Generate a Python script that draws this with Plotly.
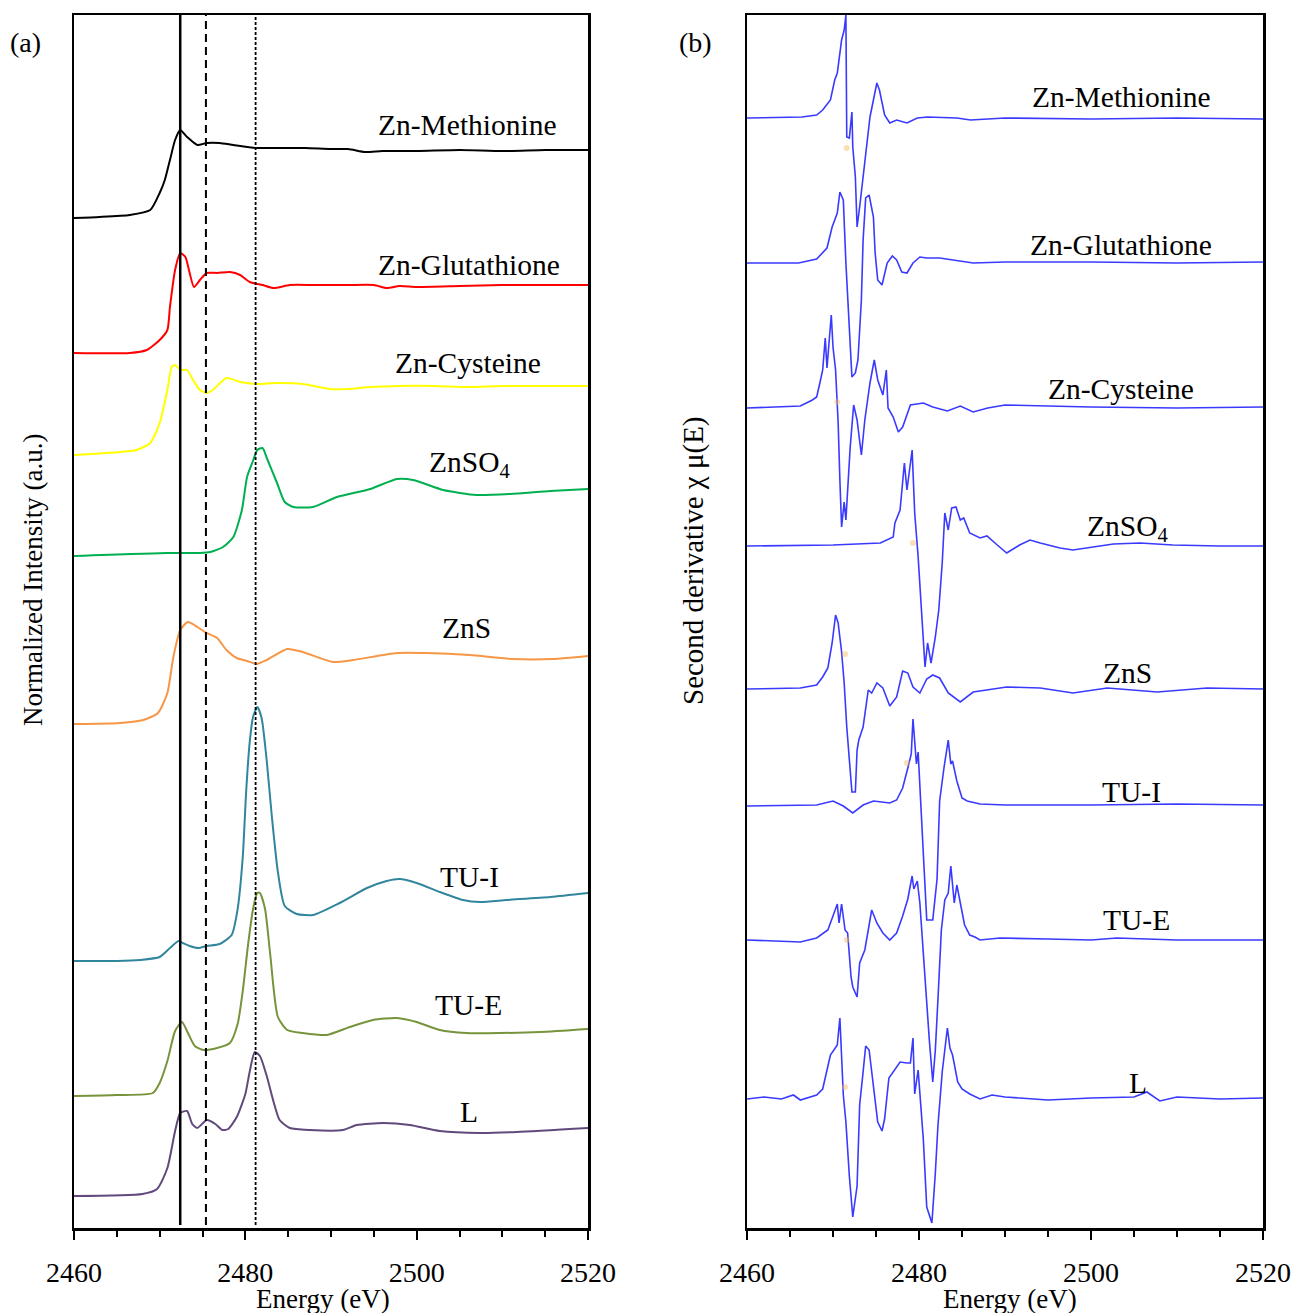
import plotly.graph_objects as go

# ---------------- Panel (a): normalized XANES (offset stacked, a.u.) ----------------
E_met_a = [2460, 2463, 2466.5, 2468.9, 2470, 2470.6, 2471.2, 2471.8, 2472.4, 2473.2, 2474.4, 2475.5, 2477, 2478.6, 2481.3, 2484, 2487, 2490, 2492, 2494, 2496, 2500, 2505, 2510, 2515, 2520]
I_met_a = [10.10, 10.11, 10.13, 10.18, 10.35, 10.48, 10.68, 10.88, 10.98, 10.91, 10.83, 10.85, 10.85, 10.83, 10.80, 10.80, 10.80, 10.79, 10.79, 10.76, 10.77, 10.77, 10.78, 10.77, 10.78, 10.78]

E_glu_a = [2460, 2466.5, 2468.5, 2470, 2470.9, 2471.2, 2471.8, 2472.4, 2473, 2473.5, 2474, 2474.7, 2475.5, 2476.7, 2478.2, 2479.4, 2480.5, 2482, 2483.3, 2485.2, 2488, 2492, 2495, 2496.5, 2498, 2500, 2505, 2510, 2515, 2520]
I_glu_a = [8.75, 8.75, 8.78, 8.88, 8.98, 9.21, 9.58, 9.75, 9.71, 9.55, 9.41, 9.48, 9.55, 9.55, 9.56, 9.53, 9.46, 9.43, 9.40, 9.43, 9.43, 9.43, 9.43, 9.40, 9.42, 9.41, 9.42, 9.43, 9.43, 9.43]

E_cys_a = [2460, 2465.4, 2467.3, 2468.9, 2470, 2470.9, 2471.4, 2471.8, 2472.4, 2473.2, 2473.9, 2474.7, 2475.5, 2476.2, 2477.8, 2479.4, 2481.3, 2483.7, 2486.7, 2489.9, 2491.9, 2494.6, 2498, 2502, 2506, 2510, 2515, 2520]
I_cys_a = [7.73, 7.76, 7.78, 7.85, 8.05, 8.38, 8.61, 8.63, 8.58, 8.58, 8.48, 8.38, 8.35, 8.38, 8.50, 8.46, 8.44, 8.45, 8.44, 8.39, 8.39, 8.41, 8.42, 8.42, 8.41, 8.42, 8.42, 8.42]

E_so4_a = [2460, 2470.9, 2474.7, 2475.9, 2477.4, 2478.6, 2479.6, 2480.2, 2480.8, 2481.4, 2482, 2482.6, 2483.7, 2484.6, 2485.6, 2487.9, 2490.7, 2494.6, 2497.7, 2499.6, 2503.1, 2507, 2510.9, 2515.6, 2520]
I_so4_a = [6.72, 6.75, 6.75, 6.76, 6.81, 6.91, 7.18, 7.51, 7.65, 7.78, 7.80, 7.68, 7.45, 7.26, 7.21, 7.21, 7.31, 7.39, 7.49, 7.48, 7.38, 7.33, 7.34, 7.37, 7.39]

E_zns_a = [2460, 2465.4, 2468.1, 2469.8, 2470.9, 2471.6, 2472.4, 2473.3, 2474.4, 2475.5, 2476.7, 2477.8, 2479, 2480.2, 2481.3, 2482.5, 2484.9, 2486.7, 2490.2, 2492.6, 2497.7, 2501.2, 2506.2, 2511.2, 2515.9, 2520]
I_zns_a = [5.04, 5.05, 5.08, 5.15, 5.35, 5.71, 5.98, 6.06, 6.01, 5.95, 5.90, 5.78, 5.70, 5.67, 5.64, 5.68, 5.79, 5.76, 5.66, 5.68, 5.75, 5.75, 5.73, 5.69, 5.69, 5.72]

E_tui_a = [2460, 2465, 2467.7, 2470, 2471.2, 2472.2, 2472.7, 2473.5, 2474.5, 2475.5, 2477, 2478.4, 2479.1, 2479.7, 2480.1, 2480.5, 2480.9, 2481.4, 2481.9, 2482.5, 2483.1, 2483.8, 2484.6, 2486, 2487.9, 2491, 2494.2, 2496.5, 2498, 2500, 2502.7, 2505.4, 2507.4, 2510.5, 2515.6, 2520]
I_tui_a = [2.67, 2.67, 2.68, 2.71, 2.80, 2.87, 2.85, 2.82, 2.80, 2.82, 2.84, 2.93, 3.19, 3.71, 4.37, 4.85, 5.11, 5.21, 5.10, 4.67, 4.11, 3.56, 3.22, 3.14, 3.13, 3.25, 3.40, 3.47, 3.49, 3.45, 3.36, 3.28, 3.26, 3.28, 3.31, 3.35]

E_tue_a = [2460, 2465, 2469.2, 2470, 2470.9, 2471.8, 2472.6, 2473.3, 2474.1, 2475.1, 2476.7, 2478.2, 2479.1, 2479.7, 2480.3, 2480.9, 2481.4, 2481.7, 2482.3, 2482.9, 2483.8, 2484.9, 2486.7, 2489.5, 2492.2, 2494.9, 2497.7, 2500, 2502.7, 2505.8, 2509.7, 2514.4, 2520]
I_tue_a = [1.32, 1.33, 1.35, 1.45, 1.67, 1.97, 2.06, 1.95, 1.82, 1.78, 1.80, 1.85, 2.04, 2.37, 2.82, 3.19, 3.35, 3.35, 3.19, 2.74, 2.11, 1.98, 1.95, 1.93, 2.01, 2.08, 2.10, 2.06, 1.98, 1.95, 1.95, 1.96, 1.99]

E_l_a = [2460, 2468, 2469.7, 2470.9, 2471.8, 2472.4, 2473.2, 2473.8, 2474.4, 2475.5, 2476.5, 2477.3, 2478, 2479, 2480, 2480.5, 2481.1, 2481.7, 2482.5, 2483.3, 2484, 2485.2, 2487.5, 2491.4, 2493, 2496.1, 2499.2, 2502.7, 2507.4, 2511.7, 2520]
I_l_a = [0.32, 0.34, 0.39, 0.60, 0.97, 1.15, 1.17, 1.04, 1.00, 1.08, 1.04, 0.98, 0.99, 1.11, 1.34, 1.56, 1.76, 1.72, 1.52, 1.26, 1.08, 1.00, 0.98, 0.98, 1.03, 1.05, 1.03, 0.97, 0.95, 0.96, 1.00]

# reference energies (vertical guide lines)
guide_energies = [2472.4, 2475.4, 2481.2]

# ---------------- Panel (b): second derivative (offset stacked) ----------------
E_met_b = [2460, 2466.4, 2468.1, 2468.8, 2469.7, 2470.2, 2470.5, 2471.0, 2471.3, 2471.5, 2471.6, 2471.9, 2472.2, 2472.3, 2472.6, 2472.8, 2473.1, 2473.7, 2474.3, 2475.1, 2475.4, 2476.0, 2476.6, 2477.4, 2478.6, 2479.8, 2481.0, 2484.4, 2486.0, 2490, 2500, 2510, 2520]
D_met_b = [11.10, 11.11, 11.13, 11.18, 11.28, 11.48, 11.55, 11.88, 11.98, 12.13, 10.91, 10.90, 11.16, 10.81, 10.51, 10.01, 10.21, 10.68, 11.11, 11.45, 11.38, 11.13, 11.05, 11.08, 11.05, 11.10, 11.11, 11.10, 11.08, 11.10, 11.09, 11.10, 11.09]

E_glu_b = [2460, 2466, 2468.1, 2469.3, 2469.9, 2470.5, 2470.8, 2471.2, 2471.5, 2471.7, 2472.0, 2472.2, 2472.6, 2472.9, 2473.3, 2473.5, 2473.8, 2474.2, 2474.7, 2474.9, 2475.2, 2475.7, 2476.3, 2476.9, 2477.4, 2478.0, 2478.6, 2479.3, 2480.1, 2480.9, 2482.4, 2484.0, 2486.3, 2490, 2500, 2510, 2520]
D_glu_b = [9.65, 9.65, 9.69, 9.80, 10.01, 10.15, 10.36, 10.28, 9.65, 9.28, 8.78, 8.51, 8.55, 8.68, 9.28, 9.88, 10.30, 10.33, 10.11, 9.75, 9.48, 9.43, 9.65, 9.72, 9.68, 9.56, 9.55, 9.65, 9.71, 9.70, 9.70, 9.68, 9.65, 9.66, 9.66, 9.65, 9.66]

E_cys_b = [2460, 2466.2, 2467.6, 2468.1, 2468.5, 2468.8, 2469.1, 2469.3, 2469.8, 2470.0, 2470.3, 2470.6, 2470.8, 2471.0, 2471.3, 2471.5, 2472.0, 2472.4, 2472.8, 2473.3, 2473.7, 2474.3, 2474.8, 2475.2, 2475.8, 2476.2, 2476.4, 2477.0, 2477.6, 2478.1, 2479.0, 2480.5, 2481.6, 2483.3, 2484.8, 2486.3, 2488, 2490, 2500, 2510, 2520]
D_cys_b = [8.20, 8.22, 8.28, 8.31, 8.46, 8.58, 8.90, 8.60, 9.13, 8.81, 8.58, 8.05, 7.48, 7.01, 7.26, 7.08, 7.81, 8.23, 8.08, 7.73, 8.08, 8.45, 8.68, 8.48, 8.33, 8.58, 8.20, 8.11, 7.96, 8.01, 8.23, 8.25, 8.21, 8.17, 8.22, 8.16, 8.20, 8.23, 8.21, 8.20, 8.21]

E_so4_b = [2460, 2470, 2475.5, 2476.3, 2477.0, 2477.2, 2477.8, 2478.3, 2478.6, 2479.2, 2479.5, 2479.9, 2480.3, 2480.7, 2481.0, 2481.4, 2481.9, 2482.3, 2482.7, 2483.0, 2483.4, 2483.8, 2484.3, 2484.8, 2485.2, 2485.9, 2487.1, 2487.9, 2489.1, 2490.2, 2491.7, 2492.9, 2494.1, 2496.4, 2497.9, 2500.2, 2502.6, 2505.7, 2509.5, 2515, 2520]
D_so4_b = [6.82, 6.83, 6.85, 6.88, 6.91, 7.05, 7.18, 7.65, 7.38, 7.78, 7.15, 6.71, 6.15, 5.61, 5.85, 5.65, 5.91, 6.18, 6.65, 7.15, 6.98, 7.20, 7.21, 7.08, 7.10, 6.95, 6.90, 6.92, 6.83, 6.75, 6.83, 6.88, 6.85, 6.80, 6.78, 6.81, 6.84, 6.85, 6.83, 6.82, 6.82]

E_zns_b = [2460, 2466.2, 2468.1, 2468.8, 2469.4, 2469.9, 2470.3, 2470.6, 2471.0, 2471.3, 2471.6, 2472.2, 2472.6, 2472.8, 2473.0, 2473.5, 2474.1, 2474.5, 2475.1, 2475.8, 2476.6, 2477.4, 2478.1, 2478.7, 2479.3, 2480.1, 2480.9, 2481.6, 2482.4, 2483.4, 2484.8, 2486.3, 2490.2, 2494.1, 2497.9, 2501.9, 2507.7, 2513.5, 2520]
D_zns_b = [5.39, 5.40, 5.43, 5.51, 5.60, 5.85, 6.13, 6.05, 5.76, 5.45, 5.01, 4.36, 4.36, 4.78, 4.88, 5.01, 5.38, 5.35, 5.45, 5.40, 5.22, 5.31, 5.57, 5.55, 5.41, 5.35, 5.49, 5.53, 5.50, 5.35, 5.26, 5.36, 5.41, 5.40, 5.35, 5.40, 5.36, 5.40, 5.39]

E_tui_b = [2460, 2468.1, 2470.0, 2471.2, 2472.3, 2473.5, 2474.7, 2476.6, 2477.4, 2478.1, 2478.7, 2479.1, 2479.3, 2479.7, 2479.9, 2480.3, 2480.6, 2480.9, 2481.3, 2481.6, 2482.1, 2482.4, 2482.9, 2483.4, 2483.7, 2483.9, 2484.4, 2485.0, 2485.6, 2487.1, 2490, 2500, 2510, 2520]
D_tui_b = [4.22, 4.23, 4.27, 4.22, 4.15, 4.23, 4.27, 4.25, 4.28, 4.40, 4.60, 4.74, 5.09, 4.64, 4.76, 4.03, 3.52, 3.08, 3.08, 3.08, 3.49, 4.27, 4.60, 4.88, 4.64, 4.67, 4.47, 4.30, 4.27, 4.24, 4.23, 4.23, 4.24, 4.23]

E_tue_b = [2460, 2466.2, 2468.1, 2469.4, 2470.0, 2470.5, 2470.7, 2471.0, 2471.4, 2471.7, 2472.1, 2472.3, 2472.8, 2473.1, 2473.7, 2474.0, 2474.5, 2475.1, 2475.8, 2476.6, 2477.4, 2478.1, 2478.7, 2479.2, 2479.4, 2479.8, 2480.1, 2480.5, 2480.9, 2481.2, 2481.6, 2481.9, 2482.2, 2482.6, 2483.0, 2483.4, 2483.7, 2484.1, 2484.4, 2484.8, 2485.3, 2485.9, 2486.5, 2487.1, 2489.4, 2495, 2500, 2503, 2510, 2520]
D_tue_b = [2.88, 2.86, 2.90, 2.98, 3.12, 3.24, 3.05, 3.24, 2.98, 2.95, 2.51, 2.41, 2.31, 2.65, 2.78, 2.92, 3.18, 3.05, 2.95, 2.88, 2.95, 3.12, 3.29, 3.52, 3.39, 3.47, 3.25, 2.75, 2.24, 1.88, 1.46, 1.78, 2.28, 2.98, 3.28, 3.35, 3.62, 3.25, 3.43, 3.25, 3.03, 2.93, 2.91, 2.88, 2.90, 2.89, 2.88, 2.90, 2.88, 2.88]

E_l_b = [2460, 2462, 2464, 2465.4, 2466.2, 2468.1, 2468.8, 2469.7, 2470.5, 2470.8, 2471.2, 2471.5, 2471.9, 2472.3, 2472.8, 2473.1, 2473.5, 2473.8, 2474.2, 2474.7, 2475.2, 2475.7, 2476.0, 2476.5, 2477.0, 2477.8, 2478.6, 2479.0, 2479.3, 2479.5, 2479.9, 2480.1, 2480.5, 2480.9, 2481.5, 2481.9, 2482.2, 2482.7, 2483.3, 2483.6, 2483.9, 2484.5, 2485.0, 2485.9, 2487.1, 2488.5, 2490, 2495, 2500, 2505, 2506.5, 2508, 2510, 2515, 2520]
D_l_b = [1.29, 1.31, 1.29, 1.33, 1.28, 1.33, 1.39, 1.73, 1.83, 2.10, 1.33, 1.06, 0.52, 0.11, 0.42, 1.23, 1.56, 1.82, 1.78, 1.39, 1.06, 0.97, 1.09, 1.50, 1.56, 1.66, 1.65, 1.65, 1.90, 1.34, 1.58, 1.33, 0.89, 0.21, 0.05, 0.55, 1.02, 1.56, 2.00, 1.80, 1.73, 1.46, 1.39, 1.34, 1.29, 1.33, 1.31, 1.28, 1.30, 1.31, 1.36, 1.27, 1.31, 1.29, 1.30]

# faint orange point marks visible on panel (b)
mark_E_b = [2471.6, 2470.5, 2479.3, 2471.4, 2478.6, 2471.6, 2471.4]
mark_D_b = [10.80, 8.26, 6.85, 5.74, 4.65, 2.88, 1.41]

sample_names = ["Zn-Methionine", "Zn-Glutathione", "Zn-Cysteine", "ZnSO<sub>4</sub>", "ZnS", "TU-I", "TU-E", "L"]
colors_a = ["#000000", "#ff0000", "#ffff00", "#00b050", "#f79646", "#31859c", "#77933c", "#604a7b"]
blue_b = "#3a3aff"

# label anchor positions (data coords)
lab_x_a = [2505.9, 2506.1, 2506.0, 2506.2, 2505.8, 2506.2, 2506.1, 2506.1]
lab_y_a = [11.03, 9.63, 8.65, 7.64, 6.00, 3.51, 2.23, 1.16]
lab_x_b = [2503.5, 2503.5, 2503.5, 2504.3, 2504.3, 2504.7, 2505.3, 2505.5]
lab_y_b = [11.31, 9.83, 8.39, 7.00, 5.55, 4.36, 3.08, 1.45]

curves_a = [(E_met_a, I_met_a), (E_glu_a, I_glu_a), (E_cys_a, I_cys_a), (E_so4_a, I_so4_a),
            (E_zns_a, I_zns_a), (E_tui_a, I_tui_a), (E_tue_a, I_tue_a), (E_l_a, I_l_a)]
curves_b = [(E_met_b, D_met_b), (E_glu_b, D_glu_b), (E_cys_b, D_cys_b), (E_so4_b, D_so4_b),
            (E_zns_b, D_zns_b), (E_tui_b, D_tui_b), (E_tue_b, D_tue_b), (E_l_b, D_l_b)]

FONT = "Liberation Serif, Times New Roman, serif"
W, H = 1295, 1313


def px(x):
    return x / W


def py(y):
    return 1 - y / H


fig = go.Figure()
for (ex, iy), c, n in zip(curves_a, colors_a, sample_names):
    fig.add_trace(go.Scatter(x=ex, y=iy, mode="lines",
                             line=dict(color=c, width=2, shape="spline", smoothing=0.6),
                             name=n, xaxis="x", yaxis="y", showlegend=False))
for (ex, dy), n in zip(curves_b, sample_names):
    fig.add_trace(go.Scatter(x=ex, y=dy, mode="lines", line=dict(color=blue_b, width=1.6),
                             name=n, xaxis="x2", yaxis="y2", showlegend=False))
fig.add_trace(go.Scatter(x=mark_E_b, y=mark_D_b, mode="markers",
                         marker=dict(color="#f6b860", size=6, opacity=0.45),
                         xaxis="x2", yaxis="y2", showlegend=False))

# guide lines on panel (a)
dashes = ["solid", "8px,5px", "3px,2px"]
widths = [2.5, 2, 1.8]
for e, d, w in zip(guide_energies, dashes, widths):
    fig.add_shape(type="line", xref="x", yref="y", x0=e, x1=e, y0=0.03, y1=12.13,
                  line=dict(color="black", width=w, dash=d), layer="above")

# series labels
for n, x, y in zip(sample_names, lab_x_a, lab_y_a):
    fig.add_annotation(x=x, y=y, xref="x", yref="y", text=n, showarrow=False,
                       font=dict(family=FONT, size=29.5, color="black"))
for n, x, y in zip(sample_names, lab_x_b, lab_y_b):
    fig.add_annotation(x=x, y=y, xref="x2", yref="y2", text=n, showarrow=False,
                       font=dict(family=FONT, size=29.5, color="black"))


def pa(x, y, text, size=27, angle=0):
    fig.add_annotation(x=px(x), y=py(y), xref="paper", yref="paper", text=text,
                       showarrow=False, textangle=angle, xanchor="center", yanchor="middle",
                       font=dict(family=FONT, size=size, color="black"))


pa(25, 42, "(a)", 28)
pa(695, 42, "(b)", 28)
pa(323, 1299, "Energy (eV)", 27)
pa(1010, 1299, "Energy (eV)", 27)
pa(33, 580, "Normalized Intensity (a.u.)", 27, -90)
pa(693, 561, "Second derivative χ μ(E)", 29, -90)

xcommon = dict(range=[2460, 2520], tickvals=[2460, 2480, 2500, 2520], ticks="outside",
               ticklen=9, tickwidth=2, tickcolor="black", showline=True, linecolor="black",
               linewidth=2.5, mirror=True, showgrid=False, zeroline=False, automargin=False,
               ticklabelstandoff=9,
               tickfont=dict(family=FONT, size=28, color="black"),
               minor=dict(dtick=5, tick0=2460, ticks="outside", ticklen=6, tickwidth=2, tickcolor="black"))
ycommon = dict(range=[0, 12.13], showticklabels=False, ticks="", showline=True, automargin=False,
               linecolor="black", linewidth=2.5, mirror=True, showgrid=False, zeroline=False)

fig.update_layout(
    width=W, height=H, margin=dict(l=0, r=0, t=0, b=0, autoexpand=False),
    paper_bgcolor="white", plot_bgcolor="white",
    xaxis=dict(domain=[px(74), px(588)], anchor="y", **xcommon),
    yaxis=dict(domain=[py(1228), py(15)], anchor="x", **ycommon),
    xaxis2=dict(domain=[px(747), px(1263)], anchor="y2", **xcommon),
    yaxis2=dict(domain=[py(1228), py(15)], anchor="x2", **ycommon),
    showlegend=False,
    hovermode=False,
)

fig.write_html("out.html", config={"displayModeBar": False, "staticPlot": True},
               post_script="document.body.style.margin='0';document.body.style.overflow='hidden';")
